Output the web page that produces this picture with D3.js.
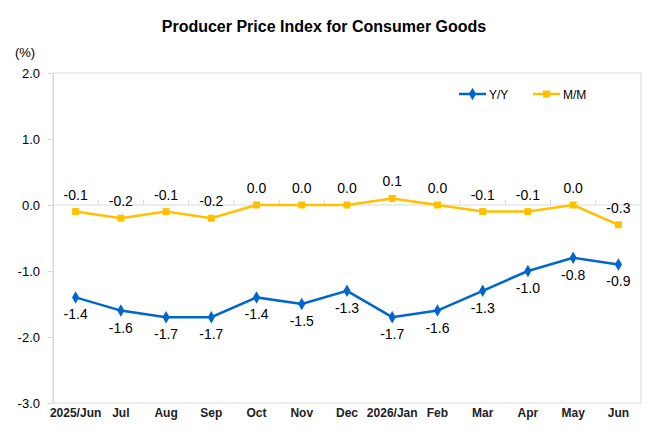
<!DOCTYPE html>
<html><head><meta charset="utf-8">
<script src="https://cdn.jsdelivr.net/npm/d3@7"></script>
<style>body{margin:0;background:#fff}svg{display:block;font-family:"Liberation Sans",Arial,sans-serif}</style>
</head><body><svg id="c" width="660" height="440"></svg>
<script>
const categories=["2025/Jun","Jul","Aug","Sep","Oct","Nov","Dec","2026/Jan","Feb","Mar","Apr","May","Jun"];
const yoy=[-1.4,-1.6,-1.7,-1.7,-1.4,-1.5,-1.3,-1.7,-1.6,-1.3,-1.0,-0.8,-0.9];
const mom=[-0.1,-0.2,-0.1,-0.2,0.0,0.0,0.0,0.1,0.0,-0.1,-0.1,0.0,-0.3];
const yTicks=[2.0,1.0,0.0,-1.0,-2.0,-3.0];
const seriesNames=["Y/Y","M/M"];

const fmt=d=>(Math.abs(d)<1e-9?0:d).toFixed(1);
const svg=d3.select("#c");
const L=53,R=641,T=73,B=403;
const x=d3.scaleBand().domain(categories).range([L,R]);
const y=d3.scaleLinear().domain([-3,2]).range([B,T]);
const blue="#0066CC",yellow="#FFC000",grey="#D9D9D9";

svg.append("text").attr("x",324).attr("y",32).attr("text-anchor","middle")
 .attr("font-size",16).attr("font-weight","bold").text("Producer Price Index for Consumer Goods");
svg.append("text").attr("x",25).attr("y",57).attr("text-anchor","middle").attr("font-size",13).text("(%)");

// plot border
svg.append("rect").attr("x",L).attr("y",T).attr("width",R-L).attr("height",B-T)
 .attr("fill","none").attr("stroke",grey).attr("stroke-width",1);

// y axis
const ya=svg.append("g").attr("transform",`translate(${L},0)`)
 .call(d3.axisLeft(y).tickValues(yTicks).tickFormat(fmt).tickSize(5).tickPadding(8));
ya.select(".domain").attr("stroke",grey);
ya.selectAll(".tick line").attr("stroke",grey);
ya.selectAll(".tick text").attr("font-size",13).attr("fill","#000").attr("font-family","Liberation Sans, Arial, sans-serif");

// zero line with category-boundary ticks
const y0=y(0);
svg.append("line").attr("x1",L).attr("x2",R).attr("y1",y0).attr("y2",y0).attr("stroke",grey);
categories.slice(1).forEach(c=>{
  svg.append("line").attr("x1",x(c)).attr("x2",x(c)).attr("y1",y0).attr("y2",y0-5).attr("stroke",grey);
});

// x labels at bottom
svg.append("g").selectAll("text").data(categories).join("text")
 .attr("x",d=>x(d)+x.bandwidth()/2).attr("y",417).attr("text-anchor","middle")
 .attr("font-size",12).attr("font-weight","bold").attr("fill","#222").text(d=>d);

const cx=(d,i)=>x(categories[i])+x.bandwidth()/2;
const line=d3.line().x((d,i)=>cx(d,i)).y(d=>y(d));

// M/M
svg.append("path").datum(mom).attr("d",line).attr("fill","none").attr("stroke",yellow).attr("stroke-width",2.5);
svg.append("g").selectAll("rect").data(mom).join("rect")
 .attr("x",(d,i)=>cx(d,i)-3.5).attr("y",d=>y(d)-3.5).attr("width",7).attr("height",7).attr("fill",yellow);
svg.append("g").selectAll("text").data(mom).join("text")
 .attr("x",(d,i)=>cx(d,i)).attr("y",d=>y(d)-12).attr("text-anchor","middle").attr("font-size",14)
 .text(fmt);

// Y/Y
svg.append("path").datum(yoy).attr("d",line).attr("fill","none").attr("stroke",blue).attr("stroke-width",2.5);
const dia=d3.symbol().type(d3.symbolDiamond).size(45);
svg.append("g").selectAll("path").data(yoy).join("path")
 .attr("transform",(d,i)=>`translate(${cx(d,i)},${y(d)})`).attr("d",dia).attr("fill",blue);
svg.append("g").selectAll("text").data(yoy).join("text")
 .attr("x",(d,i)=>cx(d,i)).attr("y",d=>y(d)+22).attr("text-anchor","middle").attr("font-size",14)
 .text(fmt);

// legend
const lg=svg.append("g");
const items=[{n:seriesNames[0],c:blue,x:459,sym:"d"},{n:seriesNames[1],c:yellow,x:533,sym:"s"}];
items.forEach(it=>{
  lg.append("line").attr("x1",it.x).attr("x2",it.x+27).attr("y1",94).attr("y2",94).attr("stroke",it.c).attr("stroke-width",2.5);
  if(it.sym==="d") lg.append("path").attr("transform",`translate(${it.x+13.5},94)`).attr("d",dia).attr("fill",it.c);
  else lg.append("rect").attr("x",it.x+10).attr("y",90.5).attr("width",7).attr("height",7).attr("fill",it.c);
  lg.append("text").attr("x",it.x+30).attr("y",98.5).attr("font-size",12).text(it.n);
});
</script></body></html>
